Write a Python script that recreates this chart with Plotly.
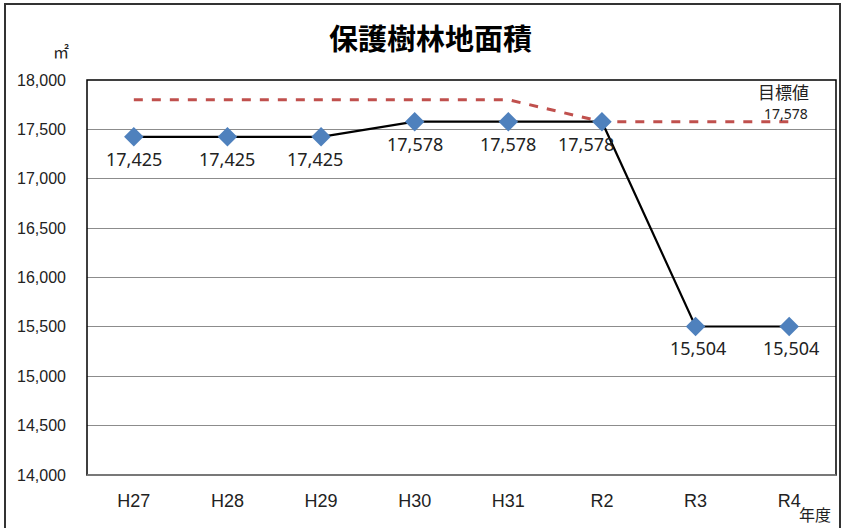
import plotly.graph_objects as go

categories = ["H27", "H28", "H29", "H30", "H31", "R2", "R3", "R4"]
area_values = [17425, 17425, 17425, 17578, 17578, 17578, 15504, 15504]
target_values = [17800, 17800, 17800, 17800, 17800, 17578, 17578, 17578]
label_xshift = [0, 0, -6, 0, 0, -16, 2, 2]
y_ticks = list(range(14000, 18001, 500))

W, H = 842, 528
L, R, T, B = 87, 6, 80, 53
pw, ph = W - L - R, H - T - B

def px_x(x):
    return (x - L) / pw

def px_y(y):
    return (H - B - y) / ph

fig = go.Figure()
fig.add_trace(go.Scatter(
    x=categories, y=target_values, mode="lines",
    line=dict(color="#C0504D", width=3, dash="dash"),
    hoverinfo="skip", showlegend=False,
))
fig.add_trace(go.Scatter(
    x=categories, y=area_values, mode="lines+markers",
    line=dict(color="black", width=2.2),
    marker=dict(symbol="diamond", size=15, color="#4F81BD"),
    showlegend=False,
))

annotations = []
for c, v, dx in zip(categories, area_values, label_xshift):
    annotations.append(dict(
        x=c, y=v, xref="x", yref="y", text=f"{v:,}", showarrow=False,
        yshift=-22, xshift=dx, xanchor="center", yanchor="middle",
        font=dict(family="Noto Sans", size=18, color="#222222"),
    ))

def free_text(text, x, y, size, family="Noto Sans CJK JP", color="#222222"):
    return dict(text=text, xref="paper", yref="paper", x=px_x(x), y=px_y(y),
                xanchor="center", yanchor="middle", showarrow=False,
                font=dict(family=family, size=size, color=color))

annotations += [
    free_text("<b>保護樹林地面積</b>", 430, 37, 29, color="black"),
    free_text("㎡", 61, 51, 16),
    free_text("年度", 815, 514, 16),
    free_text("目標値", 783, 91, 17),
    free_text("17,578", 786, 113, 14, family="Noto Sans"),
]

fig.update_layout(
    width=W, height=H,
    margin=dict(l=L, r=R, t=T, b=B),
    paper_bgcolor="white", plot_bgcolor="white",
    font=dict(family="Liberation Sans", color="#222222"),
    xaxis=dict(
        type="category", showgrid=False, showline=False, zeroline=False,
        ticks="", tickfont=dict(size=18, family="Liberation Sans"),
        ticklabelstandoff=13, fixedrange=True,
    ),
    yaxis=dict(
        range=[14000, 18000], tickvals=y_ticks,
        ticktext=[f"{v:,}" for v in y_ticks],
        showgrid=True, gridcolor="#8C8C8C", gridwidth=1,
        showline=False, zeroline=False, ticks="",
        tickfont=dict(size=16, family="Liberation Sans"),
        ticklabelstandoff=20, fixedrange=True,
    ),
    shapes=[
        dict(type="rect", xref="paper", yref="paper", x0=0, x1=1, y0=0, y1=1,
             line=dict(color="black", width=1.5), layer="above"),
        dict(type="line", xref="paper", yref="paper", x0=0, x1=1, y0=0, y1=0,
             line=dict(color="#8C8C8C", width=1.5), layer="above"),
        dict(type="rect", xref="paper", yref="paper",
             x0=px_x(5), x1=px_x(840), y0=px_y(530), y1=px_y(4),
             line=dict(color="#333333", width=2)),
    ],
    annotations=annotations,
)

fig.write_html("out.html", config={"displayModeBar": False},
               post_script="document.body.style.margin='0';document.body.style.overflow='hidden';")
